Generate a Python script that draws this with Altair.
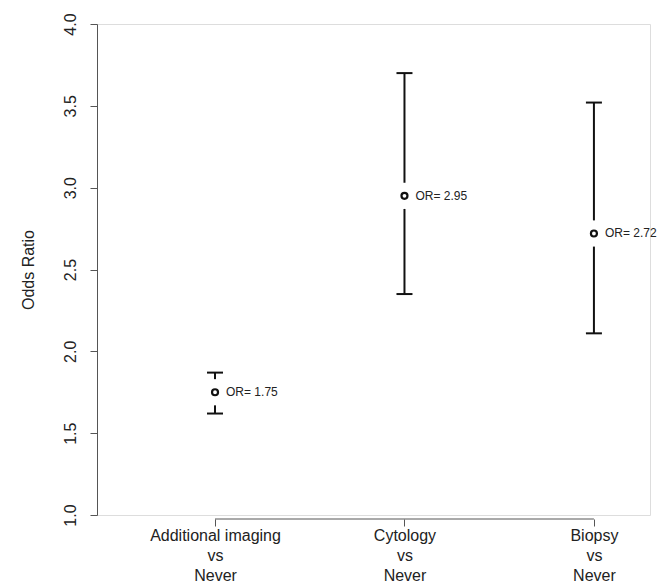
import json
import altair as alt
import pandas as pd

# ---- data ----
categories = ["Additional imaging", "Cytology", "Biopsy"]
comparison = ["vs", "vs", "vs"]
reference = ["Never", "Never", "Never"]
odds_ratio = [1.75, 2.95, 2.72]
ci_lower = [1.62, 2.35, 2.11]
ci_upper = [1.87, 3.70, 3.52]
y_ticks = [1.0, 1.5, 2.0, 2.5, 3.0, 3.5, 4.0]

positions = list(range(1, len(categories) + 1))
df = pd.DataFrame({
    "pos": positions,
    "category": categories,
    "or": odds_ratio,
    "lo": ci_lower,
    "hi": ci_upper,
    "label": ["OR= %.2f" % v for v in odds_ratio],
})
axis_line = pd.DataFrame({"start": [min(positions)], "end": [max(positions)]})

# ---- layout / style ----
FONT = "Liberation Sans"
W, H = 553, 491
GAP = 0.08            # gap (data units) between point and error bar stems
X_DOMAIN = [0.377, 3.296]
X_OFFSET = 4
INK = "#111111"
AXIS_INK = "#555555"

label_lines = [[c, v, r] for c, v, r in zip(categories, comparison, reference)]
label_expr = json.dumps(label_lines) + "[datum.value - 1]"

x_axis = alt.Axis(
    values=positions, labelExpr=label_expr, offset=X_OFFSET, domain=False,
    tickSize=7, tickColor=AXIS_INK, labelFontSize=16, labelLineHeight=20,
    labelPadding=1, labelColor="#222222", labelFont=FONT, grid=False,
    title=None, labelOverlap=False, labelFlush=False,
)
y_axis = alt.Axis(
    values=y_ticks, format=".1f", domainColor=AXIS_INK, tickColor=AXIS_INK,
    tickSize=7, labelAngle=270, labelAlign="center", labelBaseline="alphabetic",
    labelPadding=15, labelFontSize=16, labelColor="#222222", labelFont=FONT,
    grid=False, title="Odds Ratio", titleFont=FONT, titleFontSize=16,
    titleFontWeight="normal", titleColor="#222222", titleAngle=270,
    titleX=-64, titleY=H / 2, titleBaseline="alphabetic", titleAlign="center",
    labelOverlap=False,
)

xs = alt.Scale(domain=X_DOMAIN, nice=False, zero=False)
ys = alt.Scale(domain=[1, 4], nice=False, zero=False)

base = alt.Chart(df).transform_calculate(
    top_gap=f"datum.or + {GAP}", bot_gap=f"datum.or - {GAP}"
)

upper_stem = base.mark_rule(color=INK, strokeWidth=2).encode(
    x=alt.X("pos:Q", scale=xs, axis=x_axis),
    y=alt.Y("hi:Q", scale=ys, axis=y_axis),
    y2="top_gap:Q",
)
lower_stem = base.mark_rule(color=INK, strokeWidth=2).encode(
    x=alt.X("pos:Q", scale=xs, axis=x_axis),
    y=alt.Y("bot_gap:Q", scale=ys, axis=y_axis),
    y2="lo:Q",
)
upper_cap = base.mark_rule(color=INK, strokeWidth=2, xOffset=-8, x2Offset=8).encode(
    x=alt.X("pos:Q", scale=xs, axis=x_axis),
    x2="pos:Q",
    y=alt.Y("hi:Q", scale=ys, axis=y_axis),
)
lower_cap = base.mark_rule(color=INK, strokeWidth=2, xOffset=-8, x2Offset=8).encode(
    x=alt.X("pos:Q", scale=xs, axis=x_axis),
    x2="pos:Q",
    y=alt.Y("lo:Q", scale=ys, axis=y_axis),
)
points = base.mark_point(shape="circle", filled=False, size=36, strokeWidth=2.2,
                         color=INK, opacity=1).encode(
    x=alt.X("pos:Q", scale=xs, axis=x_axis),
    y=alt.Y("or:Q", scale=ys, axis=y_axis),
)
labels = base.mark_text(align="left", baseline="middle", dx=11, fontSize=12,
                        font=FONT, color="#222222").encode(
    x=alt.X("pos:Q", scale=xs, axis=x_axis),
    y=alt.Y("or:Q", scale=ys, axis=y_axis),
    text="label:N",
)
x_line = alt.Chart(axis_line).mark_rule(color=AXIS_INK, strokeWidth=1).encode(
    x=alt.X("start:Q", scale=xs, axis=x_axis),
    x2="end:Q",
    y=alt.value(H + X_OFFSET),
)

chart = alt.layer(
    x_line, upper_stem, lower_stem, upper_cap, lower_cap, points, labels
).properties(
    width=W, height=H,
    autosize=alt.AutoSizeParams(type="none"),
    padding={"left": 89, "top": 16, "right": 10, "bottom": 70},
    background="white",
).configure_view(stroke=None).configure(font=FONT)

chart.save("out.html", embed_options={"renderer": "svg", "actions": False})
